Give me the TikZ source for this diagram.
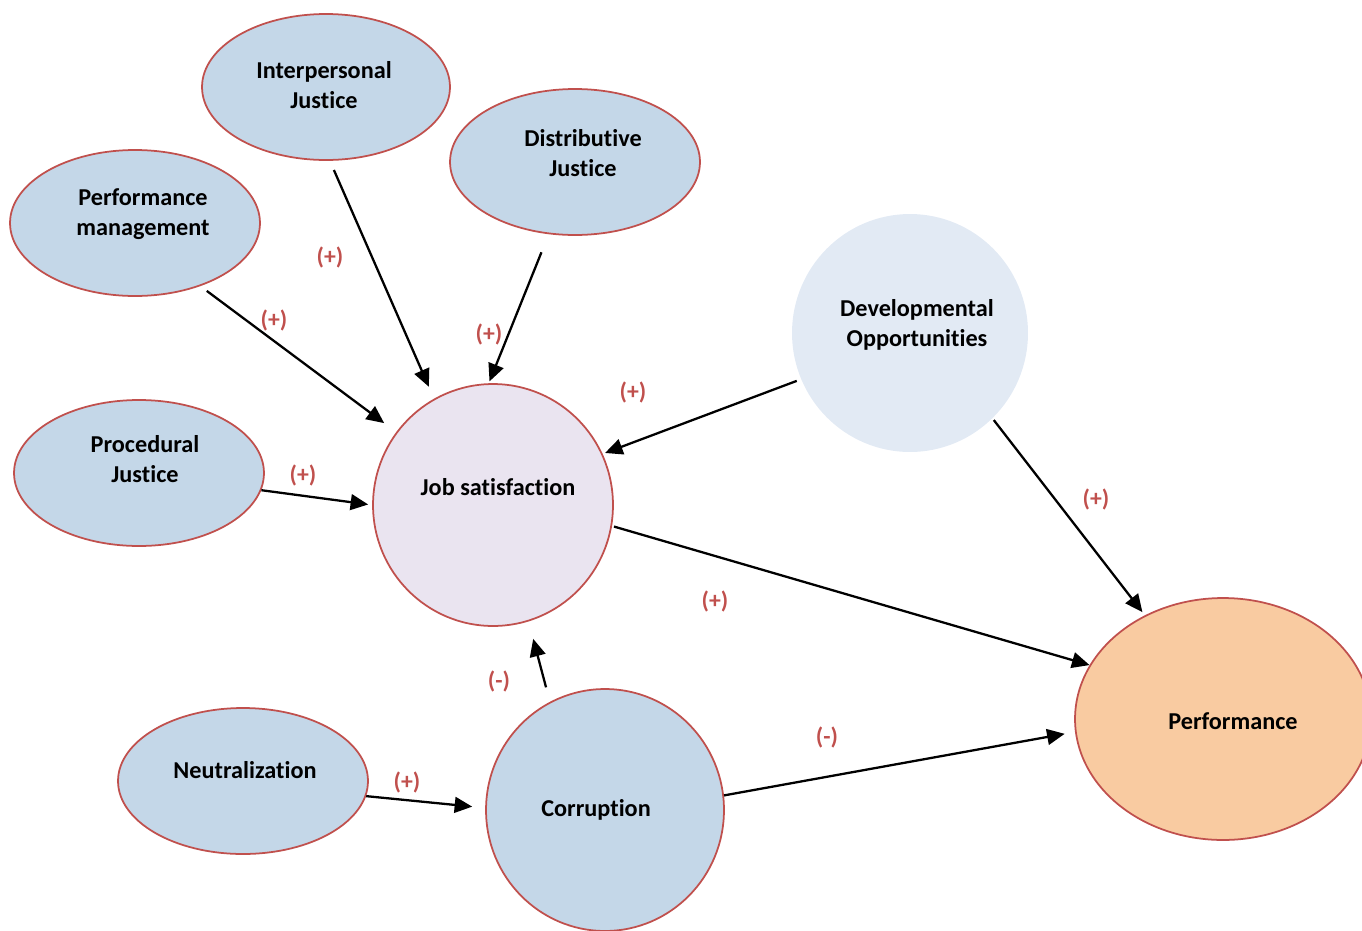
\documentclass[tikz,border=0pt]{standalone}
\usepackage{fontspec}
\setmainfont{Carlito}[Ligatures=CommonOff]
\usetikzlibrary{arrows.meta,shapes.geometric}
\definecolor{rim}{HTML}{C0504D}
\definecolor{signred}{HTML}{C0504D}
\definecolor{justice}{HTML}{C4D7E8}
\definecolor{jobfill}{HTML}{EAE4F0}
\definecolor{devfill}{HTML}{E2EAF4}
\definecolor{perffill}{HTML}{F9CBA1}

\begin{document}
\begin{tikzpicture}[x=0.02cm, y=-0.02cm,
  construct/.style={ellipse, draw=rim, line width=1pt, inner sep=0pt},
  caption/.style={font=\fontsize{13.8}{17}\selectfont\bfseries, align=center},
  sign/.style={font=\fontsize{13.5}{15}\selectfont\bfseries, text=signred},
  link/.style={-{Triangle[length=10pt,width=9pt]}, line width=1.3pt}]

  \useasboundingbox (0,0) rectangle (1362,930);

  % constructs
  \node[construct, fill=justice, minimum width=4.96cm, minimum height=2.92cm] (ip) at (326,87) {};
  \node[construct, fill=justice, minimum width=5cm, minimum height=2.92cm] (dj) at (575,162) {};
  \node[construct, fill=justice, minimum width=5cm, minimum height=2.92cm] (pm) at (135,223) {};
  \node[construct, fill=justice, minimum width=5cm, minimum height=2.92cm] (pj) at (139,473) {};
  \node[construct, fill=jobfill, minimum width=4.8cm, minimum height=4.84cm] (js) at (493,505) {};
  \node[ellipse, fill=devfill, inner sep=0pt, minimum width=4.72cm, minimum height=4.76cm] (dev) at (910,333) {};
  \node[construct, fill=justice, minimum width=5cm, minimum height=2.92cm] (nt) at (243,781) {};
  \node[construct, fill=justice, minimum width=4.76cm, minimum height=4.84cm] (cr) at (605,810) {};
  \node[construct, fill=perffill, minimum width=5.92cm, minimum height=4.84cm] (pf) at (1223,719) {};

  % captions
  \node[caption] (ip-t) at (324,85) {Interpersonal\\Justice};
  \node[caption] (dj-t) at (583,153) {Distributive\\Justice};
  \node[caption] (pm-t) at (143,214) {Performance\\management};
  \node[caption] (pj-t) at (145,459) {Procedural\\Justice};
  \node[caption] (js-t) at (498,487) {Job satisfaction};
  \node[caption] (dev-t) at (917,325) {Developmental\\Opportunities};
  \node[caption] (nt-t) at (245,770) {Neutralization};
  \node[caption] (cr-t) at (596,810) {Corruption};
  \node[caption] (pf-t) at (1233,721) {Performance};

  % paths
  \draw[link, shorten <=0.2cm, shorten >=0.26cm] (ip.-87) -- (js.119);
  \draw[link, shorten <=0.39cm, shorten >=0.04cm] (dj.-110) -- (js.92);
  \draw[link, shorten <=0.16cm, shorten >=0.3cm] (pm.-44) -- (js.143);
  \draw[link, shorten >=0.08cm] (pj.-8) -- (js.180);
  \draw[link, shorten <=0.09cm, shorten >=0.05cm] (dev.-157) -- (js.25.5);
  \draw[link, shorten <=0.04cm, shorten >=0.08cm] (dev.-46) -- (pf.127);
  \draw[link, shorten <=0.04cm] (js.-10) -- (pf.158);
  \draw[link, shorten <=0.3cm, shorten >=0.36cm] (cr.117) -- (js.-73);
  \draw[link, shorten >=0.26cm] (nt.-7.5) -- (cr.179);
  \draw[link, shorten >=0.21cm] (cr.7) -- (pf.185);

  % signs
  \node[sign] (s-ip) at (330,257) {(+)};
  \node[sign] (s-dj) at (489,334) {(+)};
  \node[sign] (s-pm) at (274,320) {(+)};
  \node[sign] (s-pj) at (303,475) {(+)};
  \node[sign] (s-devjs) at (633,392) {(+)};
  \node[sign] (s-devpf) at (1096,499) {(+)};
  \node[sign] (s-jspf) at (715,601) {(+)};
  \node[sign] (s-crjs) at (499,681) {(-)};
  \node[sign] (s-nt) at (407,782) {(+)};
  \node[sign] (s-crpf) at (827,737) {(-)};
\end{tikzpicture}
\end{document}
